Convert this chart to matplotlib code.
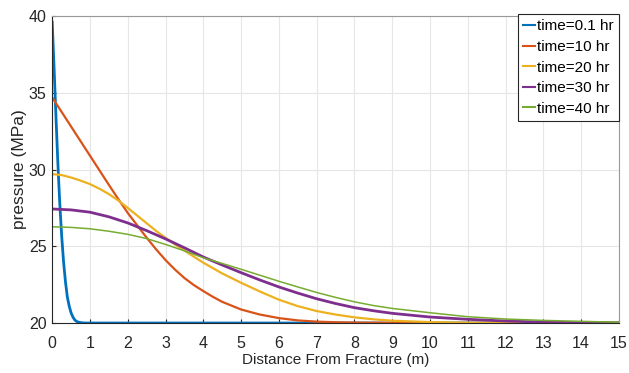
import matplotlib.pyplot as plt

plt.rcParams['font.family'] = ['Liberation Sans', 'DejaVu Sans']

# pressure profiles away from the fracture face
x_01 = [0, 0.05, 0.1, 0.15, 0.2, 0.25, 0.3, 0.35, 0.4, 0.45, 0.5, 0.55, 0.6, 0.65, 0.7, 0.8, 0.9,
        1.0, 15]
p_01 = [39.6, 36.6, 33.4, 30.4, 27.8, 25.7, 24.0, 22.7, 21.7, 21.1, 20.66, 20.38, 20.19, 20.1,
        20.05, 20.01, 20.0, 20.0, 20.0]

x_10 = [0, 0.25, 0.5, 0.75, 1.0, 1.25, 1.5, 1.75, 2.0, 2.25, 2.5, 2.75, 3.0, 3.25, 3.5, 3.75,
        4.0, 4.25, 4.5, 5.0, 5.5, 6.0, 6.5, 7.0, 7.5, 8.0, 9.0, 10, 15]
p_10 = [34.7, 33.75, 32.8, 31.85, 30.9, 29.95, 29.0, 28.07, 27.17, 26.36, 25.56, 24.8, 24.1,
        23.48, 22.93, 22.47, 22.08, 21.71, 21.38, 20.88, 20.55, 20.32, 20.17, 20.09, 20.05, 20.03,
        20.01, 20.0, 20.0]

x_20 = [0, 0.25, 0.5, 0.75, 1.0, 1.25, 1.5, 1.75, 2.0, 2.25, 2.5, 2.75, 3.0, 3.25, 3.5, 3.75,
        4.0, 4.5, 5.0, 5.5, 6.0, 6.5, 7.0, 7.5, 8.0, 8.5, 9.0, 10, 11, 12, 13, 15]
p_20 = [29.7, 29.64, 29.48, 29.28, 29.05, 28.75, 28.4, 27.98, 27.5, 27.0, 26.5, 26.0, 25.55,
        25.12, 24.72, 24.32, 23.93, 23.23, 22.62, 22.05, 21.52, 21.1, 20.78, 20.55, 20.37, 20.24,
        20.15, 20.06, 20.02, 20.01, 20.0, 20.0]

x_30 = [0, 0.5, 1.0, 1.5, 2.0, 2.5, 3.0, 3.5, 4.0, 4.5, 5.0, 5.5, 6.0, 6.5, 7.0, 7.5, 8.0, 8.5,
        9.0, 10, 11, 12, 13, 14, 15]
p_30 = [27.43, 27.37, 27.22, 26.92, 26.52, 26.02, 25.48, 24.9, 24.3, 23.78, 23.28, 22.8, 22.35,
        21.95, 21.58, 21.27, 21.0, 20.8, 20.63, 20.39, 20.24, 20.13, 20.06, 20.02, 20.0]

x_40 = [0, 0.5, 1.0, 1.5, 2.0, 2.5, 3.0, 3.5, 4.0, 4.5, 5.0, 5.5, 6.0, 6.5, 7.0, 7.5, 8.0, 8.5,
        9.0, 10, 11, 12, 13, 14, 15]
p_40 = [26.27, 26.23, 26.14, 25.98, 25.78, 25.5, 25.12, 24.7, 24.25, 23.88, 23.5, 23.11, 22.72,
        22.35, 21.99, 21.67, 21.38, 21.14, 20.95, 20.67, 20.41, 20.26, 20.17, 20.11, 20.05]

xticks = list(range(0, 16))
yticks = [20, 25, 30, 35, 40]

fig = plt.figure(figsize=(6.29, 3.73), dpi=100)
ax = fig.add_axes([0.083, 0.134, 0.901, 0.823])

ax.plot(x_01, p_01, color='#0072BD', lw=2.0, label='time=0.1 hr')
ax.plot(x_10, p_10, color='#D95319', lw=1.6, label='time=10 hr')
ax.plot(x_20, p_20, color='#EDB120', lw=1.6, label='time=20 hr')
ax.plot(x_30, p_30, color='#7E2F8E', lw=2.0, label='time=30 hr')
ax.plot(x_40, p_40, color='#77AC30', lw=1.1, label='time=40 hr')

ax.set_xlim(0, 15)
ax.set_ylim(20, 40)
ax.set_xticks(xticks)
ax.set_yticks(yticks)
ax.grid(True, color='#e6e6e6', lw=0.8)
ax.set_axisbelow(True)
ax.tick_params(direction='in', length=3, colors='#262626', labelsize=11.5)
ax.tick_params(axis='x', pad=9)
ax.tick_params(axis='y', pad=4)
for s in ['left', 'bottom']:
    ax.spines[s].set_color('#262626')
for s in ['top', 'right']:
    ax.spines[s].set_color('#999999')

ax.set_xlabel('Distance From Fracture (m)', fontsize=11, color='#262626', labelpad=2)
ax.set_ylabel('pressure (MPa)', fontsize=12.5, color='#262626', labelpad=1)

leg = ax.legend(loc='upper right', bbox_to_anchor=(1.0, 1.0065), fontsize=11, frameon=True,
                fancybox=False, edgecolor='#262626', framealpha=1, handlelength=0.8,
                handletextpad=0.1, borderpad=0.35, labelspacing=0.43, borderaxespad=0)
leg.get_frame().set_linewidth(0.8)
for line in leg.get_lines():
    line.set_linewidth(1.5)

fig.savefig('out.png', dpi=100)
